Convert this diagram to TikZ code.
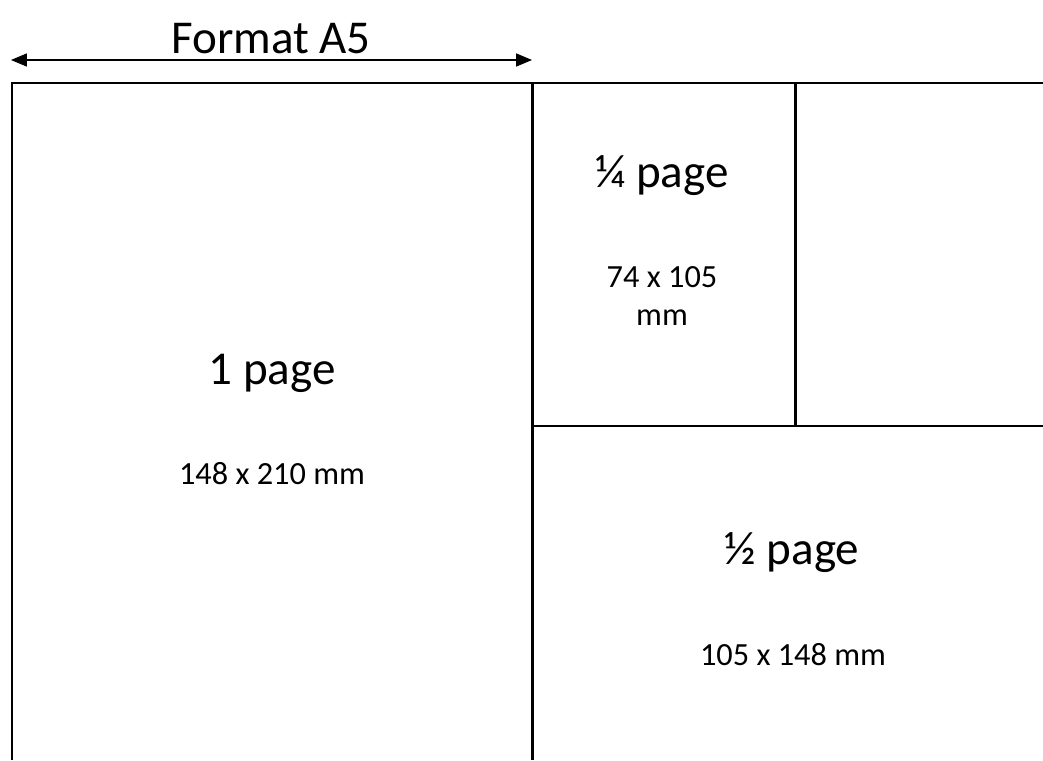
\documentclass[tikz,border=0pt]{standalone}
\usepackage{fontspec}
\setmainfont{Carlito}
\usetikzlibrary{arrows.meta}

\begin{document}
\begin{tikzpicture}[
  x=0.02cm, y=-0.02cm,
  frame/.style={line width=1.7pt},
  big/.style={anchor=base, inner sep=0pt, font=\fontsize{26.8}{32}\selectfont},
  small/.style={anchor=base, inner sep=0pt, align=center, font=\fontsize{18.4}{21.5}\selectfont},
  arrow/.style={{Triangle[length=9pt,width=7.4pt]}-{Triangle[length=9pt,width=7.4pt]}, line width=0.6pt}
]
\useasboundingbox (0,0) rectangle (1043,760);

% Title and width arrow
\node[big] (format) at (271,54) {Format A5};
\coordinate (arrow-left) at (11,60);
\coordinate (arrow-right) at (532,60);
\draw[arrow] (arrow-left) -- (arrow-right);

% Page outline
\draw[frame] (12,760) -- (12,83) -- (1043,83);
\draw[frame] (532,83) -- (532,760);
\draw[frame] (532,426) -- (1043,426);
\draw[frame] (795,83) -- (795,426);

% Full page
\node[big] (full) at (272,384) {1 page};
\node[small] (full-size) at (272,484) {148 x 210 mm};

% Quarter page
\node[big] (quarter) at (662,188) {¼ page};
\node[small] (quarter-size) at (662,325) {74 x 105\\mm};

% Half page
\node[big] (half) at (792,564) {½ page};
\node[small] (half-size) at (793,665) {105 x 148 mm};

\end{tikzpicture}
\end{document}
